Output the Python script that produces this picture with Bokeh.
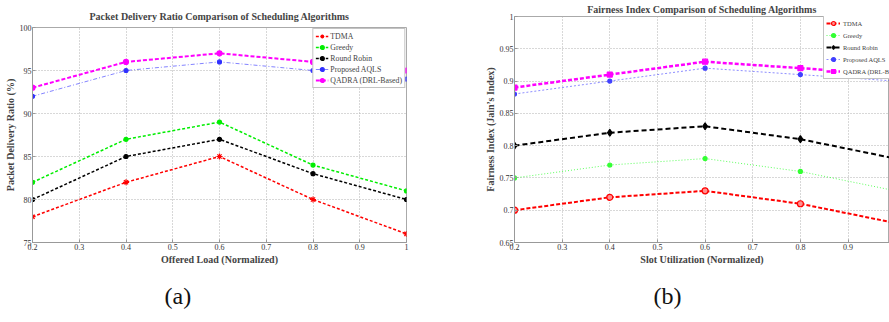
from bokeh.plotting import figure
from bokeh.layouts import row
from bokeh.models import FixedTicker, CustomJSTickFormatter, Range1d, Title, Legend, LegendItem
from bokeh.embed import file_html
from bokeh.resources import INLINE

# ---------------- data ----------------
series_names = ["TDMA", "Greedy", "Round Robin", "Proposed AQLS", "QADRA (DRL-Based)"]

offered_load = [0.2, 0.4, 0.6, 0.8, 1.0]
pdr_tdma = [78, 82, 85, 80, 76]
pdr_greedy = [82, 87, 89, 84, 81]
pdr_rr = [80, 85, 87, 83, 80]
pdr_aqls = [92, 95, 96, 95, 94]
pdr_qadra = [93, 96, 97, 96, 95]

slot_util = [0.2, 0.4, 0.6, 0.8, 1.0]
fi_tdma = [0.70, 0.72, 0.73, 0.71, 0.68]
fi_greedy = [0.75, 0.77, 0.78, 0.76, 0.73]
fi_rr = [0.80, 0.82, 0.83, 0.81, 0.78]
fi_aqls = [0.88, 0.90, 0.92, 0.91, 0.90]
fi_qadra = [0.89, 0.91, 0.93, 0.92, 0.91]

xticks_a = [0.2, 0.3, 0.4, 0.5, 0.6, 0.7, 0.8, 0.9, 1.0]
yticks_a = [75, 80, 85, 90, 95, 100]
xticks_b = [0.2, 0.3, 0.4, 0.5, 0.6, 0.7, 0.8, 0.9, 1.0]
yticks_b = [0.65, 0.7, 0.75, 0.8, 0.85, 0.9, 0.95, 1.0]

SERIF = "Liberation Serif"


def style(p, xt, yt, xlab, ylab, cap, cap_offset, title_standoff):
    fmt = CustomJSTickFormatter(code="return String(tick)")
    p.xaxis.ticker = FixedTicker(ticks=xt)
    p.yaxis.ticker = FixedTicker(ticks=yt)
    for ax in (p.xaxis[0], p.yaxis[0]):
        ax.formatter = fmt
        ax.major_label_text_font = SERIF
        ax.major_label_text_font_size = "8px"
        ax.major_label_text_color = "#333333"
        ax.major_label_standoff = 1
        ax.axis_label_text_font = SERIF
        ax.axis_label_text_font_style = "bold"
        ax.axis_label_text_font_size = "10px"
        ax.axis_label_standoff = 1
        ax.axis_line_color = "#999999"
        ax.major_tick_in = 3
        ax.major_tick_out = 0
        ax.major_tick_line_color = "#999999"
        ax.minor_tick_line_color = None
    p.xaxis.axis_label = xlab
    p.yaxis.axis_label = ylab
    p.grid.grid_line_color = "#b0b0b0"
    p.grid.grid_line_dash = "1 2"
    p.outline_line_color = "#aaaaaa"
    p.title.text_font = SERIF
    p.title.text_font_style = "bold"
    p.title.text_font_size = "10px"
    p.title.align = "center"
    p.title.standoff = title_standoff
    p.frame_align = False
    p.add_layout(Title(text=cap, align="left", offset=cap_offset, text_font=SERIF,
                       text_font_style="normal", text_font_size="24px",
                       text_color="#111111", standoff=27), "below")


# ---------------- chart (a) ----------------
pa = figure(width=445, height=322, output_backend="svg", toolbar_location=None,
            x_range=Range1d(0.2, 1.0), y_range=Range1d(75, 100),
            title="Packet Delivery Ratio Comparison of Scheduling Algorithms",
            min_border_left=32, min_border_right=39, min_border_top=27, min_border_bottom=79)
style(pa, xticks_a, yticks_a, "Offered Load (Normalized)", "Packet Delivery Ratio (%)", "(a)", 132, 11)

specs_a = [
    (pdr_tdma, "#ff0000", 1.5, "3 2", "asterisk", 6, 1.0),
    (pdr_greedy, "#00ee00", 1.5, "3 2", "circle", 4, 1.0),
    (pdr_rr, "#000000", 1.5, "3 2", "circle", 4, 1.0),
    (pdr_aqls, "#3030ff", 1.0, "4 2 1 2", "circle", 4, 0.6),
    (pdr_qadra, "#ff00ff", 2.0, "4 2", "circle", 5, 1.0),
]
items_a = []
for name, (ys, col, lw, dash, mk, ms, al) in zip(series_names, specs_a):
    r1 = pa.line(offered_load, ys, line_color=col, line_width=lw, line_dash=dash, line_alpha=al)
    r2 = pa.scatter(offered_load, ys, marker=mk, size=ms, line_color=col, fill_color=col, line_width=1.2)
    items_a.append(LegendItem(label=name, renderers=[r1, r2]))
leg_a = Legend(items=items_a, location="top_right", margin=1, padding=2, spacing=1,
               label_height=10, glyph_height=10, glyph_width=13, label_standoff=2,
               label_text_font=SERIF, label_text_font_size="7.8px",
               border_line_color="#888888", background_fill_alpha=1.0)
pa.add_layout(leg_a)

# ---------------- chart (b) ----------------
pb = figure(width=444, height=322, output_backend="svg", toolbar_location=None,
            x_range=Range1d(0.2, 0.987), y_range=Range1d(0.65, 1.0),
            title="Fairness Index Comparison of Scheduling Algorithms",
            min_border_left=69, min_border_right=0, min_border_top=15, min_border_bottom=80)
style(pb, xticks_b, yticks_b, "Slot Utilization (Normalized)", "Fairness Index (Jain\u2019s Index)", "(b)", 139, 3)

specs_b = [
    (fi_tdma, "#ff0000", 2.0, "4 2", "circle", 6, 1.0),
    (fi_greedy, "#33ff33", 1.0, "1 2", "circle", 4, 0.8),
    (fi_rr, "#000000", 2.0, "5 3", "diamond", 7, 1.0),
    (fi_aqls, "#4040ff", 1.0, "2 2", "circle", 4, 0.6),
    (fi_qadra, "#ff00ff", 2.5, "4 2", "square", 5, 1.0),
]
items_b = []
for name, (ys, col, lw, dash, mk, ms, al) in zip(series_names, specs_b):
    r1 = pb.line(slot_util, ys, line_color=col, line_width=lw, line_dash=dash, line_alpha=al)
    fill = "#ff9090" if name == "TDMA" else col
    r2 = pb.scatter(slot_util, ys, marker=mk, size=ms, line_color=col, fill_color=fill, line_width=1.2)
    items_b.append(LegendItem(label=name, renderers=[r1, r2]))
leg_b = Legend(items=items_b, location=(309, 163), margin=0, padding=2, spacing=2,
               label_height=10, glyph_height=10, glyph_width=14, label_standoff=3,
               label_text_font=SERIF, label_text_font_size="6.5px",
               border_line_color="#888888", background_fill_alpha=1.0)
pb.add_layout(leg_b)

layout = row(pa, pb)
open("out.html", "w").write(file_html(layout, INLINE))
